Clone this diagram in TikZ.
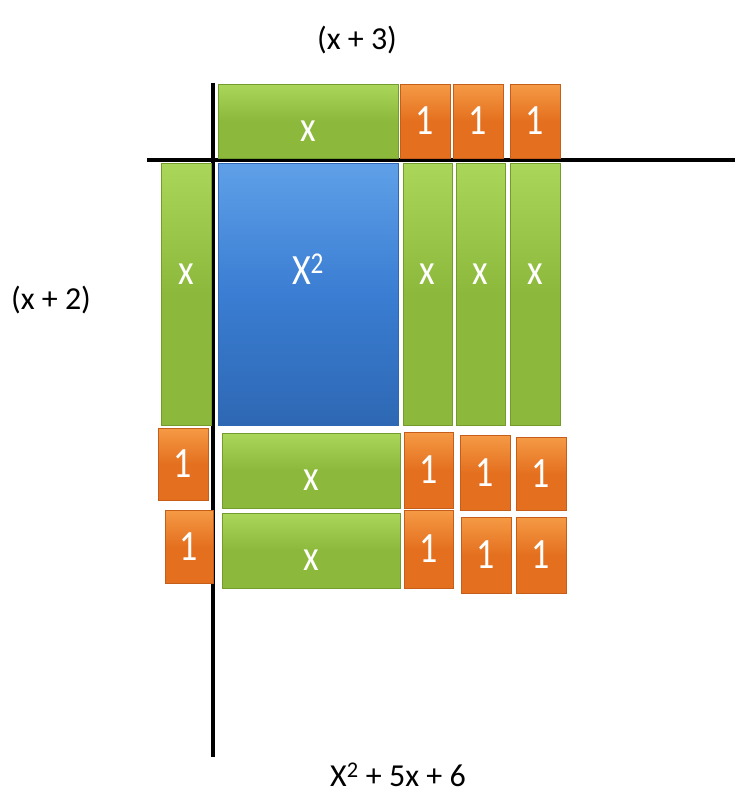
\documentclass[tikz,border=0pt]{standalone}
\usepackage{fontspec}
\setmainfont{Carlito}
\usepackage{graphicx}
\usepackage{tikz}
\usetikzlibrary{positioning}
\definecolor{tilegreen}{HTML}{8CB83C}
\definecolor{tilegreenhi}{HTML}{AAD65A}
\definecolor{tilegreenlo}{HTML}{739C2C}
\definecolor{tileorange}{HTML}{E4701F}
\definecolor{tileorangehi}{HTML}{F59A45}
\definecolor{tileorangelo}{HTML}{C45E1A}
\definecolor{tileblue}{HTML}{3A7DD2}
\definecolor{tilebluehi}{HTML}{5FA0E8}
\definecolor{tilebluelo}{HTML}{2E68B4}
\newcommand{\tilelabel}[1]{\scalebox{1}[1.2]{#1}}

\begin{document}
\begin{tikzpicture}[
  x=1pt,y=-1pt,
  tile/.style={rectangle,inner sep=0pt,text=white,font=\fontsize{36}{38}\selectfont,line width=0.8pt},
  xtile/.style={tile,draw=tilegreenlo,top color=tilegreenhi,bottom color=tilegreen,middle color=tilegreen,text height=40pt},
  onetile/.style={tile,draw=tileorangelo,top color=tileorangehi,bottom color=tileorange,middle color=tileorange,minimum width=50pt},
  sqtile/.style={tile,draw=tilebluelo,top color=tilebluehi,bottom color=tilebluelo,middle color=tileblue,text height=40pt},
  tall/.style={minimum height=262pt,text depth=60pt},
  lbl/.style={font=\fontsize{32}{34}\selectfont,inner sep=0pt},
  axis/.style={line width=3.5pt,black}
]
\useasboundingbox (0,0) rectangle (738,800);
% axes
\coordinate (ytop) at (213,83);
\coordinate (ybot) at (213,757);
\coordinate (xleft) at (147,160);
\coordinate (xright) at (735,160);
\draw[axis] (ytop) -- (ybot);
\draw[axis] (xleft) -- (xright);
% top row
\node[xtile,minimum width=180pt,minimum height=74pt] (tx) at (308,121) {\tilelabel{x}};
\node[onetile,minimum height=74pt] (t1) at (425,121) {\tilelabel{1}};
\node[onetile,minimum height=74pt] (t2) at (478,121) {\tilelabel{1}};
\node[onetile,minimum height=74pt] (t3) at (535,121) {\tilelabel{1}};
% middle band
\node[xtile,tall,minimum width=50pt] (lx) at (186,294) {\tilelabel{x}};
\node[sqtile,tall,minimum width=180pt] (sq) at (308,294) {\tilelabel{X\textsuperscript{2}}};
\node[xtile,tall,minimum width=49pt] (rx1) at (427.5,294) {\tilelabel{x}};
\node[xtile,tall,minimum width=49pt] (rx2) at (480.5,294) {\tilelabel{x}};
\node[xtile,tall,minimum width=50pt] (rx3) at (535,294) {\tilelabel{x}};
% first row below
\node[onetile,minimum height=72pt] (a0) at (183,464) {\tilelabel{1}};
\node[xtile,minimum width=178pt,minimum height=75pt] (ax) at (311,470.5) {\tilelabel{x}};
\node[onetile,minimum width=49pt,minimum height=76pt] (a1) at (428.5,470) {\tilelabel{1}};
\node[onetile,minimum height=75pt] (a2) at (485,472.5) {\tilelabel{1}};
\node[onetile,minimum height=73pt] (a3) at (541,473.5) {\tilelabel{1}};
% second row below
\node[onetile,minimum width=48pt,minimum height=73pt] (b0) at (189,546.5) {\tilelabel{1}};
\node[xtile,minimum width=178pt,minimum height=75pt] (bx) at (311,550.5) {\tilelabel{x}};
\node[onetile,minimum width=49pt,minimum height=78pt] (b1) at (428.5,549) {\tilelabel{1}};
\node[onetile,minimum height=76pt] (b2) at (486,555) {\tilelabel{1}};
\node[onetile,minimum height=76pt] (b3) at (541,555) {\tilelabel{1}};
% labels
\node[lbl] (top) at (357,40) {(x + 3)};
\node[lbl] (side) at (51,300) {(x + 2)};
\node[lbl] (sum) at (398,775) {X\textsuperscript{2} + 5x + 6};
\end{tikzpicture}
\end{document}
